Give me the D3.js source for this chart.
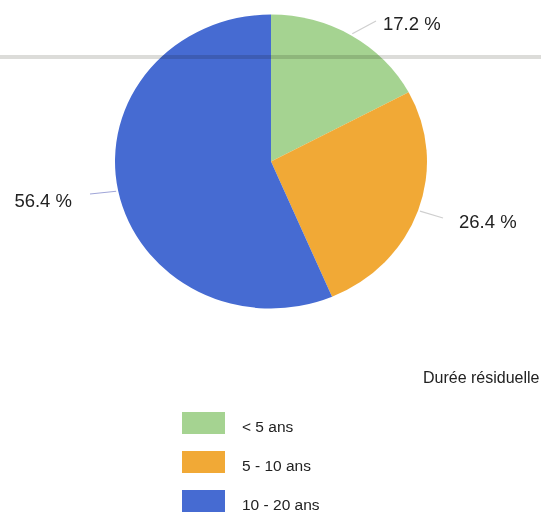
<!DOCTYPE html>
<html><head><meta charset="utf-8">
<script src="https://cdn.jsdelivr.net/npm/d3@7"></script>
<style>html,body{margin:0;padding:0;background:#fff;}svg{display:block;font-family:"Liberation Sans",Arial,sans-serif;}</style>
</head><body>
<svg id="c" width="541" height="513"></svg>
<script>
const categories = ["< 5 ans", "5 - 10 ans", "10 - 20 ans"];
const values = [17.2, 26.4, 56.4];
const labels = ["17.2 %", "26.4 %", "56.4 %"];
const colors = ["#a5d391", "#f1a936", "#466bd2"];
const legendTitle = "Durée résiduelle";

const svg = d3.select("#c");
const cx = 271, cy = 161.5, rx = 156, ry = 147;

const pie = d3.pie().sort(null).value(d => d);
const arcs = pie(values);
const arc = d3.arc().innerRadius(0).outerRadius(rx);

const g = svg.append("g").attr("transform", `translate(${cx},${cy}) scale(1,${ry/rx})`);
g.selectAll("path").data(arcs).join("path")
  .attr("d", arc).attr("fill", (d, i) => colors[i]);

// leader lines & labels
const pt = (a, r1, r2) => [cx + r1 * Math.sin(a), cy - r2 * Math.cos(a)];
const labelPos = [
  {anchor: "start", dx: 383, by: 30, lineEnd: [376, 21]},
  {anchor: "start", dx: 459, by: 228, lineEnd: [443, 218]},
  {anchor: "end", dx: 72, by: 207, lineEnd: [90, 194]}
];
arcs.forEach((d, i) => {
  const mid = (d.startAngle + d.endAngle) / 2;
  const p0 = pt(mid, rx + 2, ry + 2);
  const lp = labelPos[i];
  svg.append("line")
    .attr("x1", p0[0]).attr("y1", p0[1])
    .attr("x2", lp.lineEnd[0]).attr("y2", lp.lineEnd[1])
    .attr("stroke", i === 2 ? "#a0a6d8" : "#cfcfcf").attr("stroke-width", 1.2);
  svg.append("text")
    .attr("x", lp.dx).attr("y", lp.by)
    .attr("text-anchor", lp.anchor)
    .attr("font-size", 18.5).attr("fill", "#222")
    .text(labels[i]);
});

// scanned page rule
svg.append("rect").attr("x", 0).attr("y", 55).attr("width", 541).attr("height", 4)
  .attr("fill", "#8a8a80").attr("opacity", 0.3).style("mix-blend-mode", "multiply");

// legend
svg.append("text").attr("x", 423).attr("y", 383).attr("font-size", 16).attr("fill", "#222").text(legendTitle);
const ly = d3.scaleBand().domain(categories).range([412, 529]).paddingInner(0);
categories.forEach((c, i) => {
  const y = ly(c);
  svg.append("rect").attr("x", 182).attr("y", y).attr("width", 43).attr("height", 22).attr("fill", colors[i]);
  svg.append("text").attr("x", 242).attr("y", y + 20).attr("font-size", 15.5).attr("fill", "#222").text(c);
});
</script>
</body></html>
